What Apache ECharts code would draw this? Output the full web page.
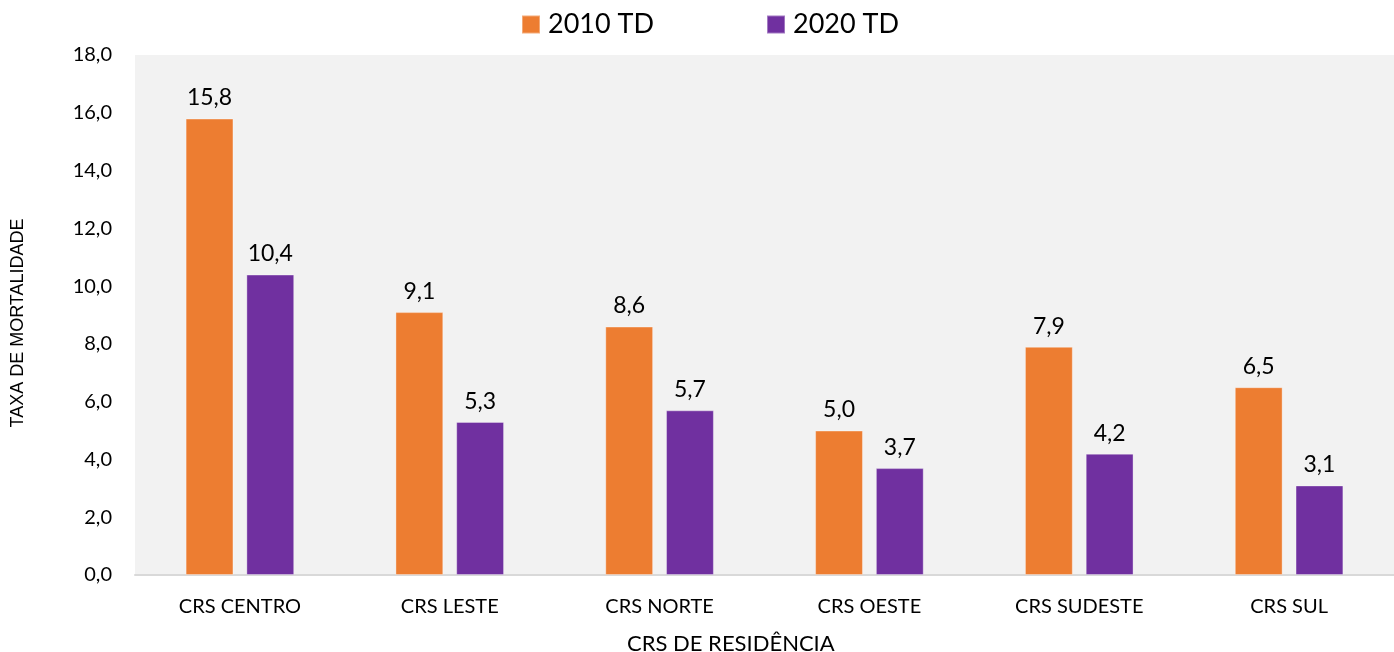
<!DOCTYPE html>
<html>
<head>
<meta charset="utf-8">
<script src="https://cdn.jsdelivr.net/npm/echarts@6/dist/echarts.min.js"></script>
<style>
  html, body { margin: 0; padding: 0; background: #fff; }
  #chart { width: 1394px; height: 652px; }
</style>
</head>
<body>
<div id="chart"></div>
<script>
// categorias e valores
const categorias = ["CRS CENTRO", "CRS LESTE", "CRS NORTE", "CRS OESTE", "CRS SUDESTE", "CRS SUL"];
const td2010 = [15.8, 9.1, 8.6, 5.0, 7.9, 6.5];
const td2020 = [10.4, 5.3, 5.7, 3.7, 4.2, 3.1];
const serieNomes = ["2010 TD", "2020 TD"];

const fonte = "Lato, 'Open Sans', sans-serif";
const fmt = (v) => Number(v).toFixed(1).replace(".", ",");

const myChart = echarts.init(document.getElementById("chart"));

const rotulo = {
  show: true,
  position: "top",
  distance: 9,
  color: "#000",
  fontFamily: fonte,
  fontSize: 23,
  formatter: (p) => fmt(p.value),
};

myChart.setOption({
  animation: false,
  title: {
    text: "CRS DE RESIDÊNCIA",
    left: 622,
    top: 628,
    textStyle: { fontFamily: fonte, fontSize: 22, fontWeight: "normal", color: "#000" },
  },
  legend: {
    data: serieNomes,
    left: 516,
    top: 6,
    icon: "rect",
    itemWidth: 18,
    itemHeight: 18,
    itemGap: 112,
    textStyle: { fontFamily: fonte, fontSize: 27, color: "#000", padding: [0, 0, 0, 3] },
  },
  grid: {
    left: 135,
    right: 0,
    top: 55,
    bottom: 77,
    show: true,
    backgroundColor: "#f2f2f2",
    borderWidth: 0,
  },
  xAxis: {
    type: "category",
    data: categorias,
    axisLine: { lineStyle: { color: "#d9d9d9", width: 2 } },
    axisTick: { show: false },
    axisLabel: { color: "#000", fontFamily: fonte, fontSize: 20, margin: 22 },
  },
  yAxis: {
    type: "value",
    min: 0,
    max: 18,
    interval: 2,
    name: "TAXA DE MORTALIDADE",
    nameLocation: "middle",
    nameGap: 108,
    nameTextStyle: { fontFamily: "'Liberation Sans', Arial, sans-serif", fontSize: 18, color: "#000", padding: [0, 16, 0, 0] },
    splitLine: { show: false },
    axisLine: { show: false },
    axisTick: { show: false },
    axisLabel: { color: "#000", fontFamily: fonte, fontSize: 20, margin: 23, formatter: fmt },
  },
  series: [
    {
      name: serieNomes[0],
      type: "bar",
      data: td2010,
      barWidth: "22.8%",
      barGap: "27%",
      itemStyle: { color: "#ed7d31", borderColor: "rgba(255,255,255,0.35)", borderWidth: 1 },
      label: rotulo,
    },
    {
      name: serieNomes[1],
      type: "bar",
      data: td2020,
      barWidth: "22.8%",
      itemStyle: { color: "#7030a0", borderColor: "rgba(255,255,255,0.35)", borderWidth: 1 },
      label: rotulo,
    },
  ],
});
</script>
</body>
</html>
